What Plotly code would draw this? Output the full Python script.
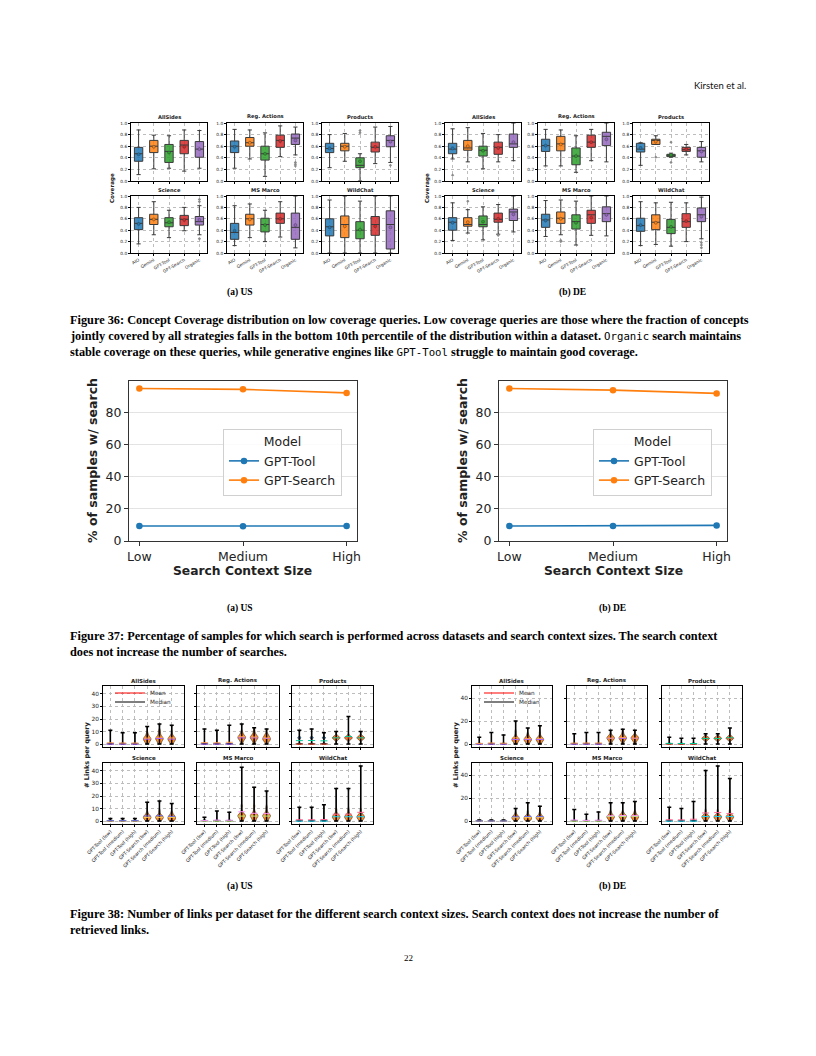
import numpy as np
import plotly.graph_objects as go

W, H = 816, 1056
PAGE_OFFSET = 8  # the page body adds an 8px margin around the figure


def fx(x):
    return (x - PAGE_OFFSET) / W


def fy(y):
    return 1 - (y - PAGE_OFFSET) / H


# ---------------------------------------------------------------- data
METHODS = ["AIO", "Gemini", "GPT-Tool", "GPT-Search", "Organic"]
METHOD_COLORS = ["#1f77b4", "#ff7f0e", "#2ca02c", "#d62728", "#9467bd"]
DATASETS = ["AllSides", "Reg. Actions", "Products", "Science", "MS Marco", "WildChat"]
COVERAGE_TICKS = [0.0, 0.2, 0.4, 0.6, 0.8, 1.0]

# Figure 36 (US) box statistics, rows follow DATASETS, columns follow METHODS
US_LO = [[0.11, 0.21, 0.22, 0.17, 0.22], [0.22, 0.38, 0.08, 0.42, 0.45], [0.23, 0.34, 0.00, 0.30, 0.32],
         [0.16, 0.32, 0.27, 0.39, 0.32], [0.13, 0.27, 0.20, 0.28, 0.09], [0.00, 0.00, 0.00, 0.00, 0.00]]
US_Q1 = [[0.34, 0.49, 0.32, 0.47, 0.41], [0.49, 0.60, 0.36, 0.58, 0.63], [0.49, 0.52, 0.23, 0.50, 0.59],
         [0.41, 0.50, 0.46, 0.48, 0.49], [0.24, 0.49, 0.37, 0.52, 0.24], [0.30, 0.27, 0.25, 0.31, 0.07]]
US_MED = [[0.47, 0.60, 0.51, 0.62, 0.55], [0.60, 0.66, 0.47, 0.70, 0.74], [0.56, 0.60, 0.27, 0.58, 0.70],
          [0.52, 0.59, 0.53, 0.59, 0.55], [0.36, 0.60, 0.50, 0.60, 0.45], [0.46, 0.50, 0.40, 0.50, 0.50]]
US_Q3 = [[0.58, 0.70, 0.63, 0.70, 0.68], [0.69, 0.75, 0.60, 0.79, 0.81], [0.65, 0.65, 0.40, 0.67, 0.78],
         [0.62, 0.68, 0.62, 0.66, 0.64], [0.52, 0.68, 0.61, 0.70, 0.70], [0.60, 0.65, 0.55, 0.64, 0.74]]
US_HI = [[0.88, 0.79, 0.78, 0.88, 0.87], [0.89, 0.88, 0.83, 0.95, 0.93], [0.80, 0.82, 0.47, 0.93, 0.94],
         [0.80, 0.90, 0.75, 0.80, 0.83], [0.83, 0.86, 0.75, 0.90, 1.00], [0.93, 1.00, 0.91, 1.00, 1.00]]
US_MEAN = [[0.46, 0.59, 0.49, 0.59, 0.55], [0.59, 0.66, 0.47, 0.69, 0.70], [0.56, 0.59, 0.34, 0.59, 0.68],
           [0.51, 0.59, 0.54, 0.58, 0.58], [0.39, 0.59, 0.49, 0.60, 0.49], [0.45, 0.47, 0.41, 0.47, 0.45]]
US_OUTLIERS = [[[], [], [], [], []], [[], [], [], [], [0.32, 0.29, 0.26]], [[], [], [0.87, 0.83], [], [0.27]],
               [[], [], [], [], [0.94, 0.90, 0.25]], [[], [], [], [], []], [[], [], [], [], []]]

# Figure 36 (DE)
DE_LO = [[0.38, 0.33, 0.21, 0.33, 0.35], [0.26, 0.26, 0.15, 0.35, 0.33], [0.27, 0.63, 0.41, 0.45, 0.33],
         [0.22, 0.35, 0.23, 0.33, 0.37], [0.29, 0.32, 0.14, 0.31, 0.30], [0.13, 0.15, 0.12, 0.20, 0.25]]
DE_Q1 = [[0.47, 0.53, 0.43, 0.46, 0.58], [0.51, 0.52, 0.28, 0.58, 0.61], [0.50, 0.63, 0.42, 0.51, 0.41],
         [0.40, 0.47, 0.46, 0.54, 0.57], [0.45, 0.52, 0.42, 0.52, 0.55], [0.38, 0.41, 0.34, 0.45, 0.55]]
DE_MED = [[0.55, 0.57, 0.53, 0.58, 0.64], [0.61, 0.64, 0.43, 0.67, 0.77], [0.55, 0.70, 0.45, 0.54, 0.52],
          [0.54, 0.50, 0.50, 0.59, 0.72], [0.58, 0.61, 0.55, 0.67, 0.69], [0.48, 0.54, 0.45, 0.55, 0.67]]
DE_Q3 = [[0.65, 0.70, 0.60, 0.67, 0.81], [0.72, 0.77, 0.57, 0.79, 0.84], [0.65, 0.72, 0.46, 0.58, 0.58],
         [0.62, 0.62, 0.65, 0.70, 0.77], [0.68, 0.72, 0.67, 0.75, 0.81], [0.61, 0.67, 0.59, 0.69, 0.79]]
DE_HI = [[0.90, 0.92, 0.82, 0.80, 1.00], [0.89, 0.88, 0.78, 0.89, 1.00], [0.66, 0.78, 0.48, 0.63, 0.68],
         [0.88, 0.76, 0.81, 0.85, 1.00], [0.92, 0.93, 0.91, 1.00, 1.00], [0.90, 0.88, 0.89, 0.88, 0.98]]
DE_MEAN = [[0.56, 0.60, 0.52, 0.57, 0.67], [0.61, 0.63, 0.43, 0.67, 0.72], [0.57, 0.68, 0.45, 0.55, 0.51],
           [0.53, 0.54, 0.55, 0.60, 0.68], [0.57, 0.60, 0.53, 0.62, 0.67], [0.49, 0.53, 0.46, 0.56, 0.64]]
DE_OUTLIERS = [[[0.10], [], [], [], []], [[], [], [], [], []], [[], [0.41], [0.67, 0.32], [], []],
               [[], [0.91], [], [0.31], []], [[], [0.22, 0.20], [], [], []], [[], [], [], [], [0.18, 0.14, 0.09]]]

# Figure 37
CONTEXT_SIZES = ["Low", "Medium", "High"]
US_TOOL_PCT = [9.3, 9.1, 9.3]
US_SEARCH_PCT = [94.8, 94.3, 92.1]
DE_TOOL_PCT = [9.3, 9.3, 9.7]
DE_SEARCH_PCT = [94.8, 93.8, 91.8]
PCT_TICKS = [0, 20, 40, 60, 80]

# Figure 38: links per query samples (rows: tool low/med/high, search low/med/high)
LINK_GROUPS = ["GPT-Tool (low)", "GPT-Tool (medium)", "GPT-Tool (high)",
               "GPT-Search (low)", "GPT-Search (medium)", "GPT-Search (high)"]
US_ALLSIDES_LINKS = [[0, 0, 0, 0, 0, 0, 0, 0, 0, 1, 11], [0, 0, 0, 0, 0, 0, 0, 0, 0, 1, 9],
                     [0, 0, 0, 0, 0, 0, 0, 0, 0, 1, 9], [0, 1, 2, 3, 3, 4, 4, 4, 5, 5, 6, 7, 9, 14],
                     [0, 1, 2, 3, 4, 4, 4, 5, 5, 6, 7, 9, 11, 16], [0, 1, 2, 3, 3, 4, 4, 4, 5, 5, 6, 7, 10, 15]]
US_REG_LINKS = [[0, 0, 0, 0, 0, 0, 0, 0, 0, 1, 12], [0, 0, 0, 0, 0, 0, 0, 0, 0, 1, 11],
                [0, 0, 0, 0, 0, 0, 0, 0, 0, 1, 15], [0, 2, 3, 4, 5, 5, 5, 6, 6, 7, 8, 10, 16],
                [0, 2, 3, 4, 5, 5, 5, 6, 6, 7, 8, 10, 13], [0, 2, 3, 3, 4, 4, 5, 5, 6, 7, 8, 12]]
US_PRODUCTS_LINKS = [[0, 0, 0, 0, 0, 0, 0, 4, 5, 5, 5, 6, 11], [0, 0, 0, 0, 0, 0, 0, 4, 5, 5, 5, 6, 12],
                     [0, 0, 0, 0, 0, 0, 0, 4, 5, 5, 5, 6, 9], [0, 4, 5, 5, 5, 5, 5, 5, 5, 5, 6, 10],
                     [0, 4, 5, 5, 5, 5, 5, 5, 5, 5, 6, 22], [0, 4, 5, 5, 5, 5, 5, 5, 5, 5, 6, 10]]
US_SCIENCE_LINKS = [[0, 0, 0, 0, 0, 0, 0, 0, 0, 1, 2], [0, 0, 0, 0, 0, 0, 0, 0, 0, 1, 2],
                    [0, 0, 0, 0, 0, 0, 0, 0, 0, 1, 2], [0, 1, 2, 2, 3, 3, 3, 4, 4, 5, 7, 15],
                    [0, 1, 2, 2, 3, 3, 3, 4, 4, 5, 8, 16], [0, 1, 1, 2, 2, 3, 3, 4, 4, 5, 7, 14]]
US_MSMARCO_LINKS = [[0, 0, 0, 0, 0, 0, 0, 0, 0, 1, 3], [0, 0, 0, 0, 0, 0, 0, 0, 0, 1, 8],
                    [0, 0, 0, 0, 0, 0, 0, 0, 0, 1, 7], [0, 1, 2, 3, 4, 4, 4, 5, 5, 6, 8, 12, 43],
                    [0, 1, 2, 3, 4, 4, 4, 5, 5, 6, 8, 12, 27], [0, 1, 2, 3, 4, 4, 4, 5, 5, 6, 8, 11, 24]]
US_WILDCHAT_LINKS = [[0, 0, 0, 0, 0, 0, 0, 0, 0, 1, 11], [0, 0, 0, 0, 0, 0, 0, 0, 0, 1, 11],
                     [0, 0, 0, 0, 0, 0, 0, 0, 0, 1, 13], [0, 1, 2, 3, 3, 3, 4, 4, 5, 6, 9, 26],
                     [0, 1, 2, 3, 3, 3, 4, 4, 5, 6, 9, 26], [0, 1, 2, 3, 3, 3, 4, 4, 5, 6, 9, 44]]
DE_ALLSIDES_LINKS = [[0, 0, 0, 0, 0, 0, 0, 0, 0, 1, 6], [0, 0, 0, 0, 0, 0, 0, 0, 0, 1, 10],
                     [0, 0, 0, 0, 0, 0, 0, 0, 0, 1, 8], [0, 1, 2, 3, 3, 4, 4, 4, 5, 5, 6, 8, 11, 20],
                     [0, 1, 2, 3, 3, 4, 4, 4, 5, 5, 6, 7, 9, 14], [0, 1, 2, 3, 3, 4, 4, 4, 5, 5, 6, 7, 10, 16]]
DE_REG_LINKS = [[0, 0, 0, 0, 0, 0, 0, 0, 0, 1, 9], [0, 0, 0, 0, 0, 0, 0, 0, 0, 1, 10],
                [0, 0, 0, 0, 0, 0, 0, 0, 0, 1, 10], [0, 2, 3, 4, 5, 5, 5, 6, 6, 7, 8, 12],
                [0, 2, 3, 4, 5, 5, 5, 6, 6, 7, 8, 10, 13], [0, 2, 3, 4, 5, 5, 5, 6, 6, 7, 8, 12]]
DE_PRODUCTS_LINKS = [[0, 0, 0, 0, 0, 0, 0, 0, 0, 1, 6], [0, 0, 0, 0, 0, 0, 0, 0, 0, 1, 5],
                     [0, 0, 0, 0, 0, 0, 0, 0, 0, 1, 5], [0, 4, 5, 5, 5, 5, 5, 5, 5, 5, 6, 9],
                     [0, 4, 5, 5, 5, 5, 5, 5, 5, 5, 6, 9], [0, 4, 5, 5, 5, 5, 5, 5, 5, 6, 7, 14]]
DE_SCIENCE_LINKS = [[0, 0, 0, 0, 0, 0, 0, 0, 0, 0, 1], [0, 0, 0, 0, 0, 0, 0, 0, 0, 0, 1],
                    [0, 0, 0, 0, 0, 0, 0, 0, 0, 0, 1], [0, 1, 2, 2, 3, 3, 3, 4, 4, 5, 7, 11],
                    [0, 1, 1, 2, 2, 3, 3, 4, 4, 5, 8, 16], [0, 1, 2, 2, 3, 3, 3, 4, 4, 5, 7, 13]]
DE_MSMARCO_LINKS = [[0, 0, 0, 0, 0, 0, 0, 0, 0, 1, 10], [0, 0, 0, 0, 0, 0, 0, 0, 0, 1, 6],
                    [0, 0, 0, 0, 0, 0, 0, 0, 0, 1, 8], [0, 1, 2, 3, 3, 4, 4, 4, 5, 6, 8, 16],
                    [0, 1, 2, 3, 4, 4, 4, 5, 5, 6, 8, 16], [0, 1, 2, 3, 3, 4, 4, 4, 5, 6, 8, 17]]
DE_WILDCHAT_LINKS = [[0, 0, 0, 0, 0, 0, 0, 0, 0, 1, 12], [0, 0, 0, 0, 0, 0, 0, 0, 0, 1, 11],
                     [0, 0, 0, 0, 0, 0, 0, 0, 0, 1, 17], [0, 1, 2, 3, 3, 4, 4, 4, 5, 6, 9, 44],
                     [0, 1, 2, 3, 3, 4, 4, 4, 5, 6, 9, 48], [0, 1, 2, 3, 3, 4, 4, 4, 5, 6, 9, 37]]

US_LINKS = [US_ALLSIDES_LINKS, US_REG_LINKS, US_PRODUCTS_LINKS,
            US_SCIENCE_LINKS, US_MSMARCO_LINKS, US_WILDCHAT_LINKS]
DE_LINKS = [DE_ALLSIDES_LINKS, DE_REG_LINKS, DE_PRODUCTS_LINKS,
            DE_SCIENCE_LINKS, DE_MSMARCO_LINKS, DE_WILDCHAT_LINKS]
US_LINK_TICKS = [0, 10, 20, 30, 40]
DE_LINK_TICKS = [0, 20, 40]

# ---------------------------------------------------------------- layout helpers
fig = go.Figure()
axes_layout = {}
annotations = []
TXT = "#222222"


def axname(i, k):
    return f"{k}axis" if i == 1 else f"{k}axis{i}"


def aref(i, k):
    return k if i == 1 else f"{k}{i}"


def set_axes(i, xpx, ypx, xo, yo):
    axes_layout[axname(i, "x")] = dict(domain=[fx(xpx[0]), fx(xpx[1])], anchor=aref(i, "y"),
                                       automargin=False, **xo)
    axes_layout[axname(i, "y")] = dict(domain=[fy(ypx[1]), fy(ypx[0])], anchor=aref(i, "x"),
                                       automargin=False, **yo)


def label(x, y, s, size, family="DejaVu Sans", bold=False, xanchor="center", angle=0, color=TXT):
    annotations.append(dict(x=fx(x), y=fy(y), xref="paper", yref="paper",
                            text=f"<b>{s}</b>" if bold else s, showarrow=False,
                            xanchor=xanchor, yanchor="middle", textangle=angle,
                            font=dict(size=size, family=family, color=color)))


def small_frame(tick_size):
    return dict(showline=True, mirror=True, linecolor="black", linewidth=0.9, ticks="outside",
                ticklen=2, tickwidth=0.6, tickcolor="black", zeroline=False, showgrid=True,
                gridcolor="#bdbdbd", griddash="dot", gridwidth=0.6,
                tickfont=dict(size=tick_size, family="DejaVu Sans", color=TXT))


def rgba(hexc, a):
    h = hexc.lstrip("#")
    return f"rgba({int(h[0:2], 16)},{int(h[2:4], 16)},{int(h[4:6], 16)},{a})"


# ---------------------------------------------------------------- Figure 36
BOX_ROWS = [(123, 181), (196, 253)]
FIG36_PANELS = [
    ([(131, 207), (227, 303), (322, 398)], (US_LO, US_Q1, US_MED, US_Q3, US_HI, US_MEAN, US_OUTLIERS), 113),
    ([(445, 521), (538, 614), (633, 709)], (DE_LO, DE_Q1, DE_MED, DE_Q3, DE_HI, DE_MEAN, DE_OUTLIERS), 428),
]
ax = 0
for cols, stats, ylab_x in FIG36_PANELS:
    lo, q1, med, q3, hi, mean, outl = stats
    for d in range(6):
        ax += 1
        r, c = divmod(d, 3)
        xo = small_frame(4.3)
        xo.update(type="category", categoryorder="array", categoryarray=METHODS, range=[-0.5, 4.5],
                  tickangle=-30, showticklabels=(r == 1))
        yo = small_frame(4.3)
        yo.update(range=[0, 1], tickvals=COVERAGE_TICKS, tickformat=".1f")
        set_axes(ax, cols[c], BOX_ROWS[r], xo, yo)
        xa, ya = aref(ax, "x"), aref(ax, "y")
        for m in range(5):
            fig.add_trace(go.Box(
                x=[METHODS[m]], q1=[q1[d][m]], median=[med[d][m]], q3=[q3[d][m]],
                lowerfence=[lo[d][m]], upperfence=[hi[d][m]], boxpoints=False,
                fillcolor=rgba(METHOD_COLORS[m], 0.85), line=dict(color="#3a3a3a", width=1.0),
                whiskerwidth=0.5, width=0.55, xaxis=xa, yaxis=ya, showlegend=False, hoverinfo="skip"))
            if outl[d][m]:
                fig.add_trace(go.Scatter(
                    x=[METHODS[m]] * len(outl[d][m]), y=outl[d][m], mode="markers",
                    marker=dict(symbol="diamond", size=2.5, color="#8a8a8a"),
                    xaxis=xa, yaxis=ya, showlegend=False, hoverinfo="skip"))
        fig.add_trace(go.Scatter(
            x=METHODS, y=mean[d], mode="markers",
            marker=dict(symbol="circle", size=3, color=METHOD_COLORS, line=dict(width=0.4, color="#333")),
            xaxis=xa, yaxis=ya, showlegend=False, hoverinfo="skip"))
        label((cols[c][0] + cols[c][1]) / 2, BOX_ROWS[r][0] - 6.5, DATASETS[d], 5.2, bold=True)
    label(ylab_x, 188, "Coverage", 5.6, bold=True, angle=-90)

# ---------------------------------------------------------------- Figure 37
LINE_ROWS = (381, 541)
FIG37_PANELS = [
    ((129, 357), US_TOOL_PCT, US_SEARCH_PCT, "legend", 92),
    ((499, 727), DE_TOOL_PCT, DE_SEARCH_PCT, "legend2", 462),
]
for cols, tool, search, leg, ylab_x in FIG37_PANELS:
    ax += 1
    frame = dict(showline=True, mirror=True, linecolor="#333333", linewidth=1, ticks="outside", ticklen=4,
                 tickwidth=1, tickcolor="#333333", zeroline=False,
                 tickfont=dict(size=12.5, family="DejaVu Sans", color=TXT))
    xo = dict(frame, type="category", categoryorder="array", categoryarray=CONTEXT_SIZES,
              range=[-0.1, 2.1], showgrid=False)
    yo = dict(frame, range=[0, 99.5], tickvals=PCT_TICKS, showgrid=True, gridcolor="#e3e3e3", gridwidth=1)
    set_axes(ax, cols, LINE_ROWS, xo, yo)
    xa, ya = aref(ax, "x"), aref(ax, "y")
    fig.add_trace(go.Scatter(x=CONTEXT_SIZES, y=tool, mode="lines+markers", name="GPT-Tool",
                             line=dict(color="#1f77b4", width=1.6), marker=dict(size=6.5, color="#1f77b4"),
                             xaxis=xa, yaxis=ya, legend=leg, hoverinfo="skip"))
    fig.add_trace(go.Scatter(x=CONTEXT_SIZES, y=search, mode="lines+markers", name="GPT-Search",
                             line=dict(color="#ff7f0e", width=1.6), marker=dict(size=6.5, color="#ff7f0e"),
                             xaxis=xa, yaxis=ya, legend=leg, hoverinfo="skip"))
    label((cols[0] + cols[1]) / 2, 571, "Search Context Size", 12.3, bold=True)
    label(ylab_x, 461, "% of samples w/ search", 12.5, bold=True, angle=-90)

# ---------------------------------------------------------------- Figure 38
V_ROWS = [(686, 747), (763, 824)]
FIG38_PANELS = [
    ([(103, 184), (197, 279), (292, 373)], US_LINKS, [-2.3, 46.3], US_LINK_TICKS, ("legend3", "legend4"), 87),
    ([(472, 552), (567, 647), (662, 742)], DE_LINKS, [-2.5, 50.5], DE_LINK_TICKS, ("legend5", "legend6"), 456),
]
POSITIONS = [1, 2, 3, 4, 5, 6]
for cols, links, yr, yt, legs, ylab_x in FIG38_PANELS:
    for d in range(6):
        ax += 1
        r, c = divmod(d, 3)
        xo = small_frame(4.7)
        xo.update(type="linear", range=[0.4, 7.0], tickvals=POSITIONS, ticktext=LINK_GROUPS,
                  tickangle=-45, showticklabels=(r == 1))
        yo = small_frame(5.8)
        yo.update(range=yr, tickvals=yt, showticklabels=(c == 0))
        set_axes(ax, cols[c], V_ROWS[r], xo, yo)
        xa, ya = aref(ax, "x"), aref(ax, "y")
        for k in range(6):
            is_tool = k < 3
            fig.add_trace(go.Violin(
                x0=POSITIONS[k], y=links[d][k], width=0.62, spanmode="hard", scalemode="width",
                bandwidth=0.45 if is_tool else 1.3, points=False,
                fillcolor=rgba("#1f77b4" if is_tool else "#ff7f0e", 0.9),
                line=dict(color="black", width=0.5), xaxis=xa, yaxis=ya,
                showlegend=False, hoverinfo="skip"))
        mins = np.array([min(s) for s in links[d]], dtype=float)
        maxs = np.array([max(s) for s in links[d]], dtype=float)
        meds = np.array([np.median(s) for s in links[d]])
        means = np.array([np.mean(s) for s in links[d]])
        fig.add_trace(go.Scatter(
            x=POSITIONS, y=meds, mode="markers",
            marker=dict(symbol="line-ew-open", size=5, line=dict(color="black", width=1.1)),
            error_y=dict(type="data", symmetric=False, array=maxs - meds, arrayminus=meds - mins,
                         color="black", thickness=1.5, width=2),
            xaxis=xa, yaxis=ya, showlegend=False, hoverinfo="skip"))
        fig.add_trace(go.Scatter(
            x=POSITIONS, y=means, mode="markers",
            marker=dict(symbol="line-ew-open", size=5, line=dict(color="red", width=1)),
            xaxis=xa, yaxis=ya, showlegend=False, hoverinfo="skip"))
        label((cols[c][0] + cols[c][1]) / 2, V_ROWS[r][0] - 5.5, DATASETS[d], 5.5, bold=True)
        if d == 0:
            fig.add_trace(go.Scatter(x=[None], y=[None], mode="lines", name="Mean",
                                     line=dict(color="red", width=1.2), xaxis=xa, yaxis=ya, legend=legs[0]))
            fig.add_trace(go.Scatter(x=[None], y=[None], mode="lines", name="Median",
                                     line=dict(color="black", width=1.2), xaxis=xa, yaxis=ya, legend=legs[1]))
    label(ylab_x, 755, "# Links per query", 6.6, bold=True, angle=-90)

# ---------------------------------------------------------------- page text
SERIF = "Liberation Serif"
MONO = "DejaVu Sans Mono"
CAP = 12.3


def mono(s):
    return f'<span style="font-family:{MONO};font-weight:normal;font-size:10.7px">{s}</span>'


label(748, 86, "Kirsten et al.", 9.5, family="Lato", xanchor="right", color="#111")
label(240, 292, "(a) US", 9.5, family=SERIF, bold=True, color="#000")
label(572, 292, "(b) DE", 9.5, family=SERIF, bold=True, color="#000")
label(240, 608, "(a) US", 9.5, family=SERIF, bold=True, color="#000")
label(612, 608, "(b) DE", 9.5, family=SERIF, bold=True, color="#000")
label(240, 886, "(a) US", 9.5, family=SERIF, bold=True, color="#000")
label(612, 886, "(b) DE", 9.5, family=SERIF, bold=True, color="#000")
label(408, 958, "22", 9, family=SERIF, color="#000")

CAPTION_LINES = [
    (320, "<b>Figure 36: Concept Coverage distribution on low coverage queries. Low coverage queries are those where the fraction of concepts</b>"),
    (336, "<b>jointly covered by all strategies falls in the bottom 10th percentile of the distribution within a dataset. </b>"
          + mono("Organic") + "<b> search maintains</b>"),
    (352, "<b>stable coverage on these queries, while generative engines like </b>" + mono("GPT-Tool")
          + "<b> struggle to maintain good coverage.</b>"),
    (636, "<b>Figure 37: Percentage of samples for which search is performed across datasets and search context sizes. The search context</b>"),
    (652, "<b>does not increase the number of searches.</b>"),
    (914, "<b>Figure 38: Number of links per dataset for the different search context sizes. Search context does not increase the number of</b>"),
    (930, "<b>retrieved links.</b>"),
]
for yy, t in CAPTION_LINES:
    annotations.append(dict(x=fx(68), y=fy(yy), xref="paper", yref="paper", text=t, showarrow=False,
                            xanchor="left", yanchor="middle",
                            font=dict(size=CAP, family=SERIF, color="#000")))

# ---------------------------------------------------------------- legends
line_legend = dict(xanchor="left", yanchor="top", bgcolor="rgba(255,255,255,0.85)", bordercolor="#d0d0d0",
                   borderwidth=1, font=dict(size=12.5, family="DejaVu Sans", color=TXT),
                   title=dict(text="Model", side="top center", font=dict(size=12.5, family="DejaVu Sans", color=TXT)),
                   tracegroupgap=0)
violin_legend = dict(xanchor="left", yanchor="middle", bgcolor="rgba(0,0,0,0)", borderwidth=0,
                     font=dict(size=5.7, family="DejaVu Sans", color=TXT), tracegroupgap=0)

fig.update_layout(
    width=W, height=H, autosize=False, margin=dict(l=0, r=0, t=0, b=0, pad=0, autoexpand=False),
    paper_bgcolor="white", plot_bgcolor="white",
    font=dict(family="DejaVu Sans", color=TXT), showlegend=True, boxmode="overlay", violinmode="overlay",
    legend=dict(line_legend, x=fx(223), y=fy(429)),
    legend2=dict(line_legend, x=fx(593), y=fy(429)),
    legend3=dict(violin_legend, x=fx(110), y=fy(693)),
    legend4=dict(violin_legend, x=fx(110), y=fy(702)),
    legend5=dict(violin_legend, x=fx(479), y=fy(693)),
    legend6=dict(violin_legend, x=fx(479), y=fy(702)),
    annotations=annotations,
    **axes_layout,
)

fig.write_html("out.html")
